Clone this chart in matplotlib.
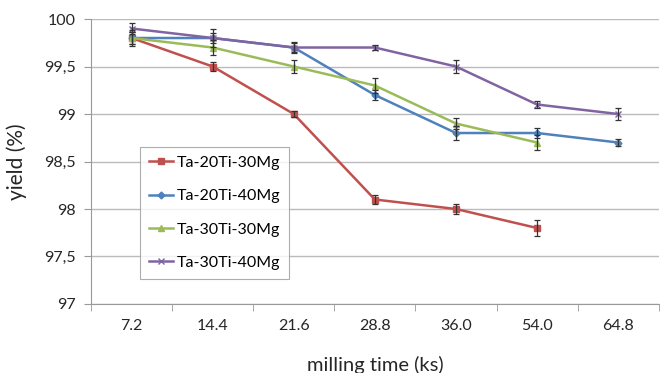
import matplotlib.pyplot as plt
from matplotlib.ticker import FixedLocator, FuncFormatter

times = ["7.2", "14.4", "21.6", "28.8", "36.0", "54.0", "64.8"]

ta20_30 = [99.8, 99.5, 99.0, 98.1, 98.0, 97.8]
ta20_30_err = [0.08, 0.05, 0.03, 0.05, 0.05, 0.08]
ta20_40 = [99.8, 99.8, 99.7, 99.2, 98.8, 98.8, 98.7]
ta20_40_err = [0.06, 0.05, 0.05, 0.05, 0.07, 0.05, 0.04]
ta30_30 = [99.8, 99.7, 99.5, 99.3, 98.9, 98.7]
ta30_30_err = [0.06, 0.08, 0.07, 0.08, 0.06, 0.08]
ta30_40 = [99.9, 99.8, 99.7, 99.7, 99.5, 99.1, 99.0]
ta30_40_err = [0.06, 0.09, 0.06, 0.03, 0.07, 0.04, 0.06]

plt.rcParams['font.family'] = ['Lato', 'DejaVu Sans']

fig = plt.figure(figsize=(6.6, 3.73), dpi=100)
ax = fig.add_axes([0.138, 0.185, 0.86, 0.764])

series = [
    ("Ta-20Ti-30Mg", ta20_30, ta20_30_err, "#C0504D", "s", 5),
    ("Ta-20Ti-40Mg", ta20_40, ta20_40_err, "#4F81BD", "D", 3.5),
    ("Ta-30Ti-30Mg", ta30_30, ta30_30_err, "#9BBB59", "^", 5),
    ("Ta-30Ti-40Mg", ta30_40, ta30_40_err, "#8064A2", "x", 5),
]
for name, vals, err, col, mk, ms in series:
    x = list(range(len(vals)))
    ax.plot(x, vals, color=col, lw=1.8, marker=mk, ms=ms, mec=col, mfc=col, label=name, zorder=3)
    ax.errorbar(x, vals, yerr=err, fmt="none", ecolor="#333333", elinewidth=0.9, capsize=2.5, capthick=0.9, zorder=4)

ax.set_xlim(-0.5, len(times) - 0.5)
ax.set_ylim(97, 100)
ax.set_xticks(range(len(times)))
ax.set_xticklabels(times)
ax.xaxis.set_minor_locator(FixedLocator([i - 0.5 for i in range(len(times) + 1)]))
ax.tick_params(axis="x", which="major", length=0, pad=11, labelsize=11.5, colors="#262626")
ax.tick_params(axis="x", which="minor", length=5, color="#999999", direction="out")
ax.set_yticks([97, 97.5, 98, 98.5, 99, 99.5, 100])
ax.yaxis.set_major_formatter(FuncFormatter(lambda v, p: ("%g" % v).replace(".", ",")))
ax.tick_params(axis="y", length=5, color="#999999", labelsize=11.5, colors="#262626", pad=6)
ax.grid(axis="y", color="#BBBBBB", lw=1)
ax.set_axisbelow(True)
for s in ["top", "right"]:
    ax.spines[s].set_visible(False)
for s in ["left", "bottom"]:
    ax.spines[s].set_color("#999999")

ax.set_ylabel("yield (%)", fontsize=15, color="#262626", labelpad=12)
ax.set_xlabel("milling time (ks)", fontsize=14.5, color="#262626", labelpad=16)

leg = ax.legend(loc="upper left", bbox_to_anchor=(0.086, 0.551), borderaxespad=0, fontsize=11.5,
                frameon=True, fancybox=False, edgecolor="#999999", handlelength=1.5,
                labelspacing=1.2, borderpad=0.55, handletextpad=0.25)
leg.get_frame().set_linewidth(0.8)

fig.savefig("out.png", dpi=100)
